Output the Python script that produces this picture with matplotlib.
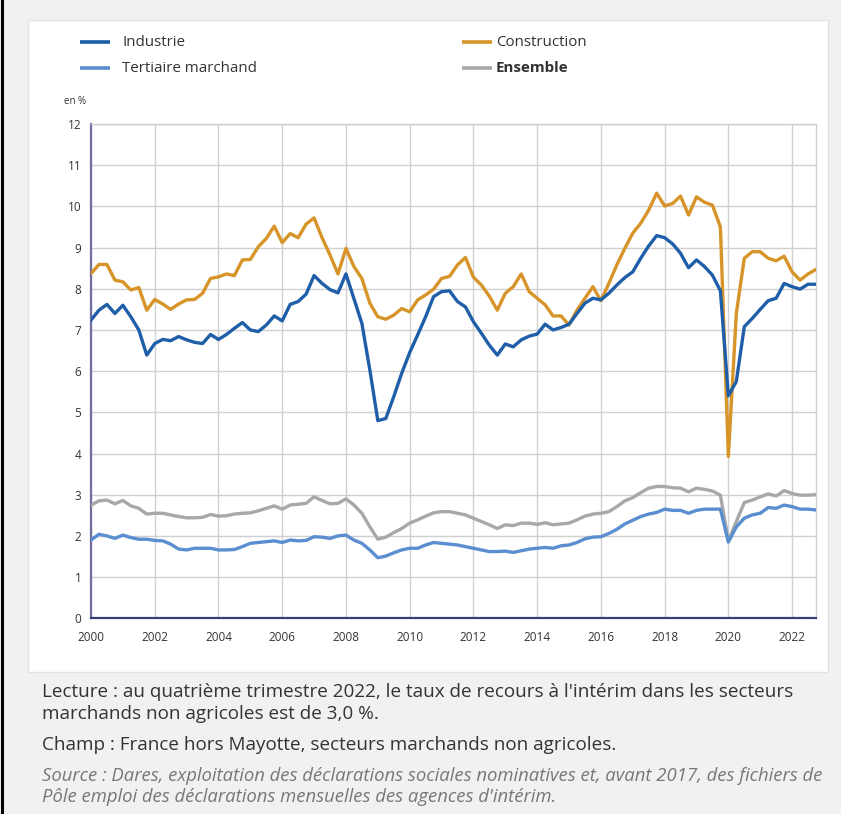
import matplotlib
matplotlib.use("Agg")
import matplotlib.pyplot as plt
from matplotlib.lines import Line2D
from matplotlib.patches import Rectangle
import numpy as np

# ---------------- data (quarterly, 2000 T1 -> 2022 T4) ----------------
start_year = 2000
industrie = [
    7.24, 7.48, 7.62, 7.40,  7.60, 7.32, 7.00, 6.39,  6.67, 6.77, 6.74, 6.84,
    6.76, 6.70, 6.67, 6.89,  6.77, 6.89, 7.04, 7.18,  7.00, 6.96, 7.12, 7.34,
    7.22, 7.62, 7.69, 7.87,  8.32, 8.13, 7.98, 7.90,  8.36, 7.76, 7.16, 6.03,
    4.80, 4.85, 5.38, 5.95,  6.45, 6.88, 7.32, 7.81,  7.93, 7.95, 7.69, 7.56,
    7.20, 6.92, 6.63, 6.39,  6.66, 6.59, 6.76, 6.85,  6.90, 7.14, 7.00, 7.06,
    7.14, 7.40, 7.65, 7.77,  7.73, 7.89, 8.09, 8.27,  8.41, 8.74, 9.04, 9.29,
    9.24, 9.09, 8.86, 8.51,  8.70, 8.54, 8.33, 7.95,  5.40, 5.75, 7.08, 7.28,
    7.50, 7.71, 7.77, 8.13,  8.05, 7.99, 8.11, 8.11,
]
construction = [
    8.37, 8.59, 8.59, 8.21,  8.17, 7.97, 8.03, 7.48,  7.74, 7.63, 7.50, 7.63,
    7.73, 7.74, 7.89, 8.25,  8.29, 8.36, 8.32, 8.70,  8.71, 9.02, 9.22, 9.52,
    9.12, 9.34, 9.24, 9.57,  9.72, 9.24, 8.82, 8.36,  8.98, 8.54, 8.25, 7.65,
    7.32, 7.26, 7.36, 7.52,  7.44, 7.73, 7.85, 7.99,  8.25, 8.30, 8.58, 8.76,
    8.28, 8.09, 7.82, 7.48,  7.89, 8.05, 8.36, 7.93,  7.77, 7.61, 7.34, 7.34,
    7.12, 7.48, 7.77, 8.05,  7.71, 8.13, 8.58, 8.98,  9.35, 9.59, 9.91, 10.32,
    10.01, 10.07, 10.25, 9.79,  10.23, 10.10, 10.03, 9.50,  3.93, 7.40, 8.74, 8.90,
    8.90, 8.74, 8.68, 8.79,  8.41, 8.21, 8.36, 8.47,
]
tertiaire = [
    1.90, 2.04, 2.00, 1.94,  2.02, 1.96, 1.92, 1.92,  1.89, 1.88, 1.80, 1.68,
    1.66, 1.70, 1.70, 1.70,  1.66, 1.66, 1.67, 1.74,  1.82, 1.84, 1.86, 1.88,
    1.84, 1.90, 1.88, 1.89,  1.98, 1.97, 1.94, 2.00,  2.02, 1.90, 1.82, 1.66,
    1.47, 1.51, 1.59, 1.66,  1.70, 1.70, 1.78, 1.84,  1.82, 1.80, 1.78, 1.74,
    1.70, 1.66, 1.62, 1.62,  1.63, 1.60, 1.64, 1.68,  1.70, 1.72, 1.70, 1.76,
    1.78, 1.84, 1.93, 1.97,  1.98, 2.06, 2.16, 2.29,  2.38, 2.47, 2.53, 2.57,
    2.65, 2.62, 2.62, 2.55,  2.62, 2.65, 2.65, 2.65,  1.85, 2.22, 2.43, 2.51,
    2.55, 2.69, 2.67, 2.75,  2.71, 2.65, 2.65, 2.63,
]
ensemble = [
    2.75, 2.85, 2.87, 2.78,  2.86, 2.73, 2.67, 2.53,  2.55, 2.55, 2.51, 2.47,
    2.44, 2.44, 2.45, 2.52,  2.48, 2.49, 2.53, 2.55,  2.56, 2.61, 2.67, 2.73,
    2.65, 2.75, 2.77, 2.79,  2.95, 2.86, 2.78, 2.79,  2.90, 2.75, 2.55, 2.22,
    1.92, 1.97, 2.08, 2.18,  2.31, 2.39, 2.48, 2.56,  2.59, 2.59, 2.55, 2.51,
    2.43, 2.35, 2.27, 2.18,  2.27, 2.25, 2.31, 2.31,  2.28, 2.32, 2.27, 2.29,
    2.31, 2.39, 2.48, 2.53,  2.55, 2.59, 2.71, 2.85,  2.93, 3.05, 3.16, 3.20,
    3.20, 3.17, 3.16, 3.07,  3.16, 3.13, 3.09, 2.99,  1.88, 2.35, 2.81, 2.87,
    2.95, 3.02, 2.97, 3.10,  3.03, 2.99, 2.99, 3.00,
]
series_labels = ["Industrie", "Tertiaire marchand", "Construction", "Ensemble"]
xtick_years = list(range(2000, 2023, 2))
yticks = list(range(0, 13))

# ---------------- style ----------------
c_ind = "#1f5ea8"
c_con = "#d79428"
c_ter = "#5a8ed0"
c_ens = "#a8a8a8"
txt = "#333333"
FONT = "Open Sans"

W, H = 841, 814
fig = plt.figure(figsize=(W / 100, H / 100), dpi=100)
fig.patch.set_facecolor("#f1f1f1")

def fx(x):
    return x / W

def fy(y):
    return 1 - y / H

# white panel
fig.patches.append(Rectangle((fx(28), fy(672)), fx(828) - fx(28), fy(20) - fy(672),
                             transform=fig.transFigure, facecolor="white",
                             edgecolor="#e2e2e2", lw=1.0, zorder=-10))
# page border on the far left
fig.add_artist(Line2D([fx(2), fx(2)], [0, 1], transform=fig.transFigure,
                      color="black", lw=2.2))

ax = fig.add_axes([fx(91), fy(618.3), fx(816) - fx(91), fy(124) - fy(618.3)])
ax.set_zorder(2)
ax.patch.set_alpha(0)
t = start_year + np.arange(len(industrie)) / 4.0

lw = 2.4
ax.plot(t, ensemble, color=c_ens, lw=lw, zorder=3, solid_joinstyle="round")
ax.plot(t, tertiaire, color=c_ter, lw=lw, zorder=3, solid_joinstyle="round")
ax.plot(t, construction, color=c_con, lw=lw, zorder=4, solid_joinstyle="round")
ax.plot(t, industrie, color=c_ind, lw=lw, zorder=5, solid_joinstyle="round")

ax.set_xlim(start_year, t[-1])
ax.set_ylim(0, 12)
ax.set_xticks(xtick_years)
ax.set_xticklabels([str(y) for y in xtick_years], fontsize=8.5, color=txt, family=FONT)
ax.set_yticks(yticks)
ax.set_yticklabels([str(y) for y in yticks], fontsize=8.5, color=txt, family=FONT)
ax.tick_params(axis="both", length=0)
ax.tick_params(axis="x", pad=9)
ax.tick_params(axis="y", pad=7)
ax.grid(True, color="#d0d0d0", lw=1.0)
ax.set_axisbelow(True)
for s in ["top", "right"]:
    ax.spines[s].set_visible(True)
    ax.spines[s].set_color("#d0d0d0")
    ax.spines[s].set_linewidth(1.0)
ax.spines["left"].set_color("#6f6f9f")
ax.spines["left"].set_linewidth(1.6)
ax.spines["bottom"].set_color("#3b3b78")
ax.spines["bottom"].set_linewidth(1.6)

fig.text(fx(64), fy(102), "en %", fontsize=7, color=txt, family=FONT, va="center", ha="left")

# legend (manual placement)
leg = [
    ("Industrie", c_ind, 80, 122, 42, "normal"),
    ("Tertiaire marchand", c_ter, 80, 122, 68, "normal"),
    ("Construction", c_con, 462, 496, 42, "normal"),
    ("Ensemble", c_ens, 462, 496, 68, "bold"),
]
for lab, col, x0, xt, y0, wt in leg:
    fig.add_artist(Line2D([fx(x0), fx(x0 + 30)], [fy(y0), fy(y0)], transform=fig.transFigure,
                          color=col, lw=2.6, solid_capstyle="butt"))
    fig.text(fx(xt), fy(y0), lab, fontsize=10.9, color=txt, family=FONT,
             fontweight=wt, va="center", ha="left")

# notes below
fs = 13.6
fig.text(fx(42), fy(692), "Lecture : au quatrième trimestre 2022, le taux de recours à l'intérim dans les secteurs",
         fontsize=fs, color=txt, family=FONT, va="center")
fig.text(fx(42), fy(714), "marchands non agricoles est de 3,0 %.",
         fontsize=fs, color=txt, family=FONT, va="center")
fig.text(fx(42), fy(745), "Champ : France hors Mayotte, secteurs marchands non agricoles.",
         fontsize=fs, color=txt, family=FONT, va="center")
fig.text(fx(42), fy(776), "Source : Dares, exploitation des déclarations sociales nominatives et, avant 2017, des fichiers de",
         fontsize=13.3, color="#777777", family=FONT, style="italic", va="center")
fig.text(fx(42), fy(797), "Pôle emploi des déclarations mensuelles des agences d'intérim.",
         fontsize=13.3, color="#777777", family=FONT, style="italic", va="center")

fig.savefig("out.png", dpi=100, facecolor=fig.get_facecolor())
